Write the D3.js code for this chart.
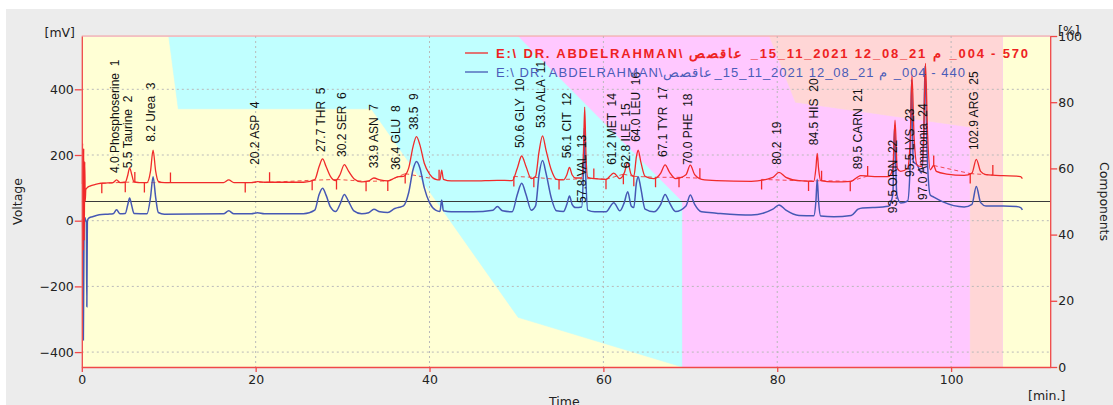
<!DOCTYPE html>
<html><head><meta charset="utf-8">
<script src="https://cdn.jsdelivr.net/npm/d3@7"></script>
<style>
html,body{margin:0;padding:0;background:#fff;}
svg{display:block;}
text{font-family:"DejaVu Sans",sans-serif;}
</style></head><body>
<svg id="c" width="1113" height="405"></svg>
<script>
// ---------------- DATA ----------------
const timeDomain = [0, 111.4];          // minutes
const mvDomain = [-445.4, 562.3];       // mV
const xTicks = [0, 20, 40, 60, 80, 100];
const mvTicks = [-400, -200, 0, 200, 400];
const pctTicks = [0, 20, 40, 60, 80, 100];

// red trace (570 nm): [time, mV]
const redTrace = [
 [0.0,112],[0.1,236],[0.16,-90],[0.22,220],[0.28,-60],[0.34,180],[0.4,60],[0.46,95],[0.6,100],[1.0,106],[1.5,110],[2.2,114],[3.0,115],[3.6,116],[4.0,124],[4.4,116],[5.0,117],[5.3,140],[5.5,161],[5.75,140],[6.0,118],[6.5,116],[7.5,116],[7.9,150],[8.2,215],[8.5,150],[8.8,120],[9.5,116],[12,116],[16.3,116],[16.9,124],[17.5,116],[19.5,116],[20.2,119],[21,117],[25.5,117],[26.8,125],[27.3,165],[27.7,188],[28.1,165],[28.6,135],[29.2,122],[29.7,140],[30.2,171],[30.7,150],[31.3,128],[32.2,118],[33.0,121],[33.6,130],[34.3,124],[35.2,121],[36.0,130],[36.5,134],[37.0,135],[37.6,160],[38.1,225],[38.5,256],[38.9,230],[39.4,175],[40.0,142],[40.7,126],[41.2,124],[41.4,154],[41.6,126],[42.5,121],[45,121],[47.8,123],[49.5,122],[50.1,160],[50.6,197],[51.1,165],[51.7,128],[52.2,135],[52.6,210],[53.0,258],[53.4,215],[54.0,155],[54.6,126],[55.4,124],[55.8,140],[56.1,162],[56.4,140],[56.8,130],[57.5,130],[57.7,200],[57.85,346],[58.0,200],[58.2,132],[59.0,128],[60.3,126],[61.2,145],[61.9,128],[62.4,145],[62.8,177],[63.2,140],[63.5,135],[63.8,195],[64.0,215],[64.3,180],[64.8,135],[65.8,128],[66.6,145],[67.1,170],[67.6,148],[68.3,128],[69.5,140],[70.0,169],[70.5,140],[71.3,126],[73,122],[77,120],[79.5,132],[80.2,147],[81.0,132],[82.5,122],[84.2,120],[84.45,160],[84.6,205],[84.75,160],[85.0,122],[86.5,118],[88.5,120],[89.2,132],[89.6,137],[90.4,136],[91.5,134],[92.8,134],[93.3,160],[93.55,306],[93.8,160],[94.2,150],[95.0,160],[95.3,250],[95.5,443],[95.75,250],[96.1,168],[96.6,165],[96.85,260],[97.05,479],[97.3,260],[97.6,155],[98.0,168],[98.3,150],[99.5,142],[101.5,138],[102.4,145],[102.9,187],[103.4,150],[104.0,140],[106,137],[107.5,136],[108.0,134],[108.2,128]
];

// blue trace (440 nm): [time, mV]
const blueTrace = [
 [0.0,5],[0.1,-30],[0.18,-363],[0.26,-20],[0.34,10],[0.45,0],[0.52,-5],[0.58,-262],[0.64,0],[0.8,8],[1.2,12],[2.0,18],[3.0,20],[3.6,21],[4.0,33],[4.4,21],[5.0,22],[5.3,50],[5.5,69],[5.75,45],[6.0,22],[7.5,21],[7.9,70],[8.2,134],[8.5,70],[8.8,25],[9.5,20],[16.3,21],[16.9,30],[17.5,21],[19.5,21],[20.2,24],[21,21],[25.5,21],[26.8,32],[27.3,80],[27.7,99],[28.1,78],[28.6,42],[29.2,28],[29.7,50],[30.2,80],[30.7,58],[31.3,30],[32.2,21],[33.0,24],[33.6,35],[34.3,27],[35.2,25],[36.0,37],[36.5,41],[37.0,45],[37.6,85],[38.1,155],[38.5,180],[38.9,160],[39.4,100],[40.0,55],[40.7,32],[41.2,28],[41.4,63],[41.6,30],[42.5,27],[45,27],[47.3,32],[47.8,43],[48.4,30],[49.5,27],[50.1,80],[50.6,114],[51.1,80],[51.7,32],[52.2,45],[52.6,140],[53.0,183],[53.4,145],[54.0,70],[54.6,30],[55.4,28],[55.8,50],[56.1,75],[56.4,50],[56.8,40],[57.5,42],[57.7,150],[57.8,282],[57.95,150],[58.2,32],[59.0,27],[60.3,27],[61.2,55],[61.9,30],[62.4,55],[62.8,88],[63.2,45],[63.5,40],[63.8,115],[64.0,134],[64.3,100],[64.8,35],[65.8,27],[66.6,50],[67.1,80],[67.6,55],[68.3,28],[69.5,45],[70.0,78],[70.5,50],[71.3,27],[73,23],[77,17],[79.5,35],[80.2,48],[81.0,32],[82.5,16],[84.2,15],[84.45,60],[84.6,126],[84.75,60],[85.0,14],[86.5,12],[88.5,16],[89.3,35],[89.8,39],[91.0,40],[92.8,44],[93.3,80],[93.5,290],[93.75,80],[94.2,54],[95.0,60],[95.3,175],[95.45,430],[95.65,180],[96.1,170],[96.6,145],[96.85,250],[97.0,470],[97.25,200],[97.6,78],[98.0,72],[99.0,58],[101.5,42],[102.4,50],[102.9,104],[103.4,55],[104.0,45],[106,45],[107.5,43],[108.0,40],[108.2,33]
];

// eluent program (% of each component, stacked)
const gradTime = [0, 10.0, 11.1, 33.3, 50.2, 69.1, 69.1, 79.1, 82.1, 102.2, 102.2, 105.9, 105.9, 111.4];
const compA    = [100, 100, 78, 78, 15, 0, 0, 0, 0, 0, 0, 0, 100, 100];
const compB    = [0, 0, 22, 22, 85, 50, 0, 0, 0, 0, 0, 0, 0, 0];
const compC    = [0, 0, 0, 0, 0, 50, 100, 100, 80, 72.5, 0, 0, 0, 0];
const compD    = [0, 0, 0, 0, 0, 0, 0, 0, 20, 27.5, 100, 100, 0, 0];

// peak annotations
const peakRT   = ['4.0','5.5','8.2','20.2','27.7','30.2','33.9','36.4','38.5','50.6','53.0','56.1','57.8','61.2','62.8','64.0','67.1','70.0','80.2','84.5','89.5','93.5','95.5','97.0','102.9'];
const peakName = ['Phosphoserine','Taurine','Urea','ASP','THR','SER','ASN','GLU','','GLY','ALA','CIT','VAL','MET','ILE','LEU','TYR','PHE','','HIS','CARN','ORN','LYS','Ammonia','ARG'];
const peakNo   = [1,2,3,4,5,6,7,8,9,10,11,12,13,14,15,16,17,18,19,20,21,22,23,24,25];
const peakLabelMv = [145,160,240,170,209,194,160,154,276,221,282,190,54,170,160,240,194,170,170,230,157,23,133,63,215];

// integration marks on red trace: time and direction (1 up, -1 down)
const markTime = [2.3,5.0,6.1,7.2,10.2,18.8,21.6,26.5,29.3,32.7,35.2,37.2,41.1,49.7,52.0,54.9,58.9,60.3,62.3,63.5,66.0,68.7,71.1,78.2,83.6,85.1,88.4,90.4,98.0,102.2,104.8];
const markDir  = [-1,-1,1,-1,1,-1,1,-1,-1,-1,-1,-1,1,-1,-1,-1,1,-1,-1,-1,-1,-1,1,-1,-1,1,-1,1,1,-1,1];

const legendRed  = 'E:\\ DR. ABDELRAHMAN\\ عاقصص\u200E _15_11_2021 12_08_21 م\u200E _004 - 570';
const legendBlue = 'E:\\ DR. ABDELRAHMAN\\عاقصص\u200E_15_11_2021 12_08_21 م\u200E _004 - 440';

// ---------------- DRAW ----------------
const W = 1113, H = 405;
const L = 81.8, R = 1050.2, T = 36, B = 367;
const RED = '#f02a2a', BLUE = '#4658b4', AX = '#f04848';
const svg = d3.select('#c');

svg.append('rect').attr('x', 6).attr('y', 9).attr('width', W - 6).attr('height', H - 9).attr('fill', '#ececec');

const x = d3.scaleLinear().domain(timeDomain).range([L, R]);
const yMv = d3.scaleLinear().domain(mvDomain).range([B, T]);
const yPct = d3.scaleLinear().domain([0, 100]).range([B, T]);

svg.append('clipPath').attr('id', 'plot').append('rect')
  .attr('x', L).attr('y', T).attr('width', R - L).attr('height', B - T);

const plot = svg.append('g').attr('clip-path', 'url(#plot)');

// background eluent areas
const rows = gradTime.map((t, i) => ({t, A: compA[i], B: compB[i], C: compC[i], D: compD[i]}));
const stacked = d3.stack().keys(['A', 'B', 'C', 'D'])(rows);
const bgColor = {A: '#ffffd5', B: '#c0ffff', C: '#ffc8ff', D: '#ffd6d6'};
const area = d3.area().x(d => x(d.data.t)).y0(d => yPct(d[0])).y1(d => yPct(d[1]));
plot.selectAll('path.bg').data(stacked).join('path')
  .attr('class', 'bg').attr('d', area)
  .attr('fill', d => bgColor[d.key]).attr('stroke', d => bgColor[d.key]).attr('stroke-width', 0.6);

// grid
plot.selectAll('line.gx').data(xTicks.filter(d => d > 0)).join('line')
  .attr('x1', d => x(d)).attr('x2', d => x(d)).attr('y1', T).attr('y2', B)
  .attr('stroke', '#b9b9b9').attr('stroke-dasharray', '2,3');
plot.selectAll('line.gy').data(mvTicks).join('line')
  .attr('x1', L).attr('x2', R).attr('y1', d => yMv(d)).attr('y2', d => yMv(d))
  .attr('stroke', '#b9b9b9').attr('stroke-dasharray', '2,3');

// 50 % reference line
plot.append('line').attr('x1', L).attr('x2', R).attr('y1', yPct(50)).attr('y2', yPct(50))
  .attr('stroke', '#3a3a3a').attr('stroke-width', 1);

const line = d3.line().x(d => x(d[0])).y(d => yMv(d[1])).curve(d3.curveMonotoneX);

function interp(trace, t) {
  for (let i = 1; i < trace.length; i++) {
    if (trace[i][0] >= t) {
      const [t0, v0] = trace[i - 1], [t1, v1] = trace[i];
      return v0 + (v1 - v0) * (t - t0) / (t1 - t0);
    }
  }
  return trace[trace.length - 1][1];
}

// dashed integration baselines
const marks = markTime.map((t, i) => ({t, dir: markDir[i], v: interp(redTrace, t)}));
for (let i = 0; i < marks.length - 1; i++) {
  if (marks[i + 1].t - marks[i].t > 7) continue;
  plot.append('line')
    .attr('x1', x(marks[i].t)).attr('y1', yMv(marks[i].v))
    .attr('x2', x(marks[i + 1].t)).attr('y2', yMv(marks[i + 1].v))
    .attr('stroke', RED).attr('stroke-width', 1).attr('stroke-dasharray', '4,3').attr('opacity', 0.8);
}

plot.append('path').datum(blueTrace).attr('d', line)
  .attr('fill', 'none').attr('stroke', BLUE).attr('stroke-width', 1.5);
plot.append('path').datum(redTrace).attr('d', line)
  .attr('fill', 'none').attr('stroke', RED).attr('stroke-width', 1.3);

// integration marks
plot.selectAll('line.mk').data(marks).join('line')
  .attr('x1', d => x(d.t)).attr('x2', d => x(d.t))
  .attr('y1', d => yMv(d.v)).attr('y2', d => yMv(d.v) - d.dir * 10)
  .attr('stroke', RED).attr('stroke-width', 1.3);

// peak labels
svg.selectAll('text.pk').data(peakRT).join('text')
  .attr('class', 'pk')
  .attr('transform', (d, i) => `translate(${x(+d) + 2},${yMv(peakLabelMv[i])}) rotate(-90)`)
  .attr('text-anchor', 'start')
  .style('white-space', 'pre')
  .style('font-family', '"Liberation Sans", Arial, sans-serif')
  .style('font-size', '12px')
  .attr('fill', '#111')
  .text((d, i) => d + (peakName[i] ? ' ' + peakName[i] : '') + '  ' + peakNo[i]);

// top border
svg.append('line').attr('x1', L).attr('x2', R).attr('y1', T).attr('y2', T)
  .attr('stroke', '#f2a0a0').attr('stroke-width', 1);

// axes
function styleAxis(g) {
  g.select('.domain').attr('stroke', AX).attr('stroke-width', 1.3);
  g.selectAll('.tick line').attr('stroke', AX).attr('stroke-width', 1.3);
  g.selectAll('.tick text').attr('fill', '#222').style('font-size', '12.5px').style('font-family', '"DejaVu Sans",sans-serif');
}
svg.append('g').attr('transform', `translate(${L},0)`)
  .call(d3.axisLeft(yMv).tickValues(mvTicks).tickSize(7).tickSizeOuter(0).tickPadding(1).tickFormat(d3.format('d')))
  .call(styleAxis);
svg.append('g').attr('transform', `translate(0,${B})`)
  .call(d3.axisBottom(x).tickValues(xTicks).tickSize(5).tickSizeOuter(0).tickPadding(3).tickFormat(d3.format('d')))
  .call(styleAxis);
svg.append('g').attr('transform', `translate(${R},0)`)
  .call(d3.axisRight(yPct).tickValues(pctTicks).tickSize(7).tickSizeOuter(0).tickPadding(1).tickFormat(d3.format('d')))
  .call(styleAxis);

// axis titles
const at = (txt, xx, yy, anchor, rot) => {
  const t = svg.append('text').attr('fill', '#222').style('font-size', '12.5px').attr('text-anchor', anchor).text(txt);
  if (rot) t.attr('transform', `translate(${xx},${yy}) rotate(${rot})`); else t.attr('x', xx).attr('y', yy);
  return t;
};
at('[mV]', 75, 37, 'end');
at('[%]', 1058, 35, 'start');
at('Voltage', 22, 201.5, 'middle', -90);
at('Components', 1100, 201.5, 'middle', 90);
at('Time', 549, 406, 'start');
at('[min.]', 1028, 400, 'start');

// legend
svg.append('line').attr('x1', 465).attr('x2', 488).attr('y1', 53).attr('y2', 53).attr('stroke', RED).attr('stroke-width', 1.3);
svg.append('line').attr('x1', 465).attr('x2', 488).attr('y1', 72).attr('y2', 72).attr('stroke', BLUE).attr('stroke-width', 1.3);
svg.append('text').attr('x', 496).attr('y', 58).attr('fill', '#ee2222')
  .style('font-family', '"Liberation Sans", Arial, sans-serif').style('font-size', '13px').style('font-weight', 'bold')
  .attr('textLength', 532).attr('lengthAdjust', 'spacing').text(legendRed);
svg.append('text').attr('x', 496).attr('y', 77).attr('fill', '#4a5cb8')
  .style('font-family', '"Liberation Sans", Arial, sans-serif').style('font-size', '13px')
  .attr('textLength', 469).attr('lengthAdjust', 'spacing').text(legendBlue);
</script>
</body></html>
